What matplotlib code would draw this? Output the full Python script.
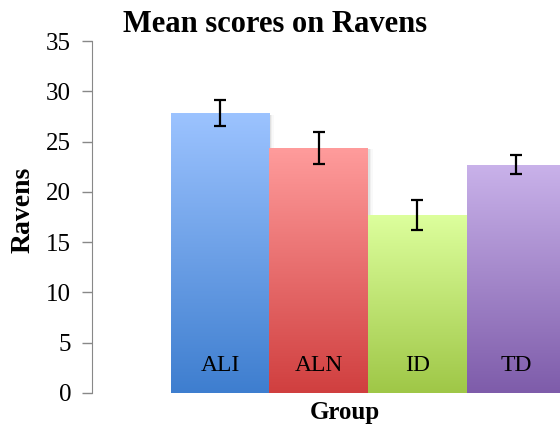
import numpy as np
import matplotlib
matplotlib.use("Agg")
import matplotlib.pyplot as plt
from matplotlib.colors import LinearSegmentedColormap

groups = ["ALI", "ALN", "ID", "TD"]
means = [27.8, 24.4, 17.7, 22.7]
errors = [1.3, 1.6, 1.5, 0.95]
# (top colour, bottom colour) of each bar's gradient
top_colors = ["#9cc3ff", "#ff9c9c", "#ddff9d", "#c9b2ea"]
bottom_colors = ["#3e7ecf", "#d03f3f", "#9fc747", "#7e5caa"]

plt.rcParams['font.family'] = ['Liberation Serif', 'DejaVu Serif']

fig = plt.figure(figsize=(5.6, 4.28), dpi=100)
ax = fig.add_axes([0.1643, 0.0818, 0.986, 0.8224])

x = np.arange(len(groups))
bars = ax.bar(x, means, width=1.0, color="none", edgecolor="none", zorder=2)

grad = np.linspace(0, 1, 256).reshape(-1, 1)
for b, c_top, c_bot in zip(bars, top_colors, bottom_colors):
    # soft shadow on the right
    for off, a in [(0.015, 0.06), (0.03, 0.04), (0.045, 0.025)]:
        sh = plt.Rectangle((b.get_x() + off, 0), b.get_width(), b.get_height() - 0.15,
                           color="#000000", alpha=a, zorder=1, lw=0)
        ax.add_patch(sh)
    cmap = LinearSegmentedColormap.from_list("g", [c_bot, c_top])
    im = ax.imshow(grad, cmap=cmap, aspect="auto", origin="lower",
                   extent=[b.get_x(), b.get_x() + b.get_width(), 0, b.get_height()],
                   zorder=3)
    im.set_clip_path(b)

ax.errorbar(x, means, yerr=errors, fmt="none", ecolor="black", elinewidth=1.6,
            capsize=4.5, capthick=1.6, zorder=4)

for xi, g in zip(x, groups):
    ax.text(xi, 2.7, g, ha="center", va="center", fontsize=17, zorder=5)

ax.set_xlim(-0.5 - 0.8, len(groups) - 0.5 + 0.8)
ax.set_ylim(0, 35)
ax.set_yticks(range(0, 36, 5))
ax.set_xticks([])
ax.tick_params(axis="y", direction="out", length=7, width=1, color="#888888",
               labelsize=18, pad=8)
for s in ["top", "right", "bottom"]:
    ax.spines[s].set_visible(False)
ax.spines["left"].set_color("#888888")
ax.set_facecolor("none")

fig.text(275 / 560, 1 - 24 / 428, "Mean scores on Ravens", ha="center", va="center",
         fontsize=22, fontweight="bold")
fig.text(23 / 560, 1 - 210 / 428, "Ravens", ha="center", va="center", rotation=90,
         fontsize=20, fontweight="bold")
fig.text(345 / 560, 1 - 412 / 428, "Group", ha="center", va="center",
         fontsize=18, fontweight="bold")

fig.savefig("out.png", dpi=100)
